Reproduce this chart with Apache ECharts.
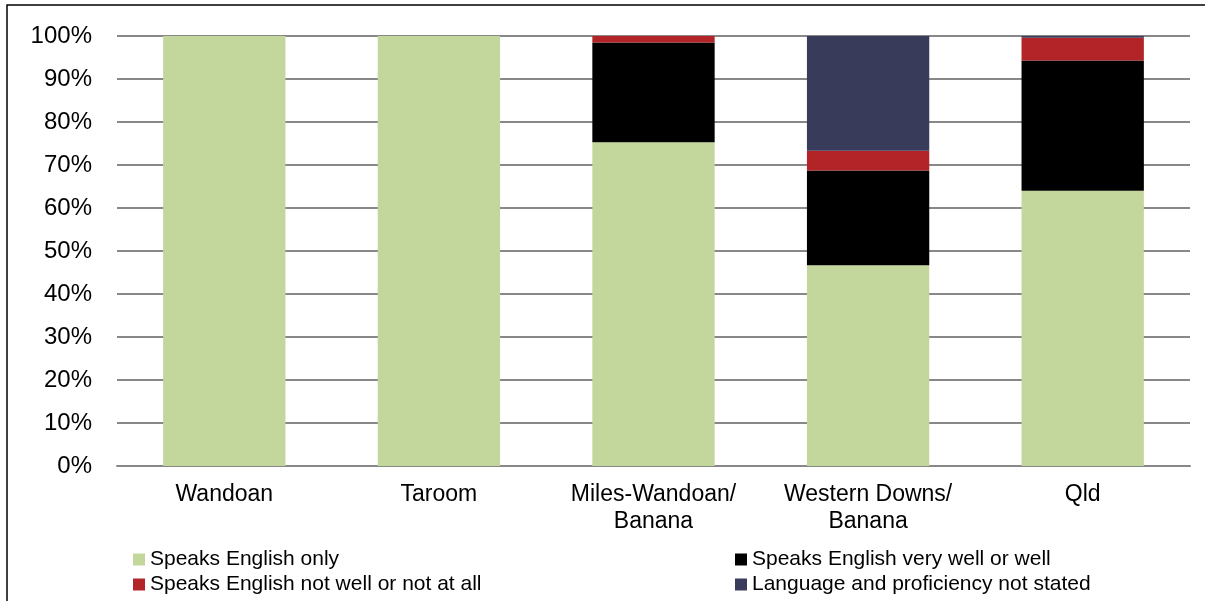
<!DOCTYPE html>
<html>
<head>
<meta charset="utf-8">
<script src="https://cdn.jsdelivr.net/npm/echarts@6/dist/echarts.min.js"></script>
<style>
html, body { margin: 0; padding: 0; background: #fff; }
#chart { width: 1205px; height: 601px; }
</style>
</head>
<body>
<div id="chart"></div>
<script>
var categories = ['Wandoan', 'Taroom', 'Miles-Wandoan/\nBanana', 'Western Downs/\nBanana', 'Qld'];
var englishOnly = [100, 100, 75.3, 46.7, 64.0];
var veryWell = [0, 0, 23.2, 22.0, 30.3];
var notWell = [0, 0, 1.5, 4.6, 5.3];
var notStated = [0, 0, 0, 26.7, 0.4];
var yTicks = [0, 10, 20, 30, 40, 50, 60, 70, 80, 90, 100];

var names = ['Speaks English only', 'Speaks English very well or well',
             'Speaks English not well or not at all', 'Language and proficiency not stated'];
var colors = ['#C3D69B', '#000000', '#B22428', '#383C5A'];
var values = [englishOnly, veryWell, notWell, notStated];

var myChart = echarts.init(document.getElementById('chart'));

var legendText = { fontFamily: 'Liberation Sans', fontSize: 21, color: '#000', lineHeight: 21 };

var option = {
    animation: false,
    textStyle: { fontFamily: 'Liberation Sans' },
    graphic: [{
        type: 'rect',
        shape: { x: 7, y: 5, width: 1210, height: 610 },
        style: { fill: 'none', stroke: '#000', lineWidth: 1.5 },
        silent: true
    }],
    grid: { left: 117, right: 15, top: 36, bottom: 135 },
    legend: [
        {
            data: [names[0], names[2]],
            orient: 'vertical',
            left: 133, top: 549, height: 80, width: 500,
            padding: 0,
            itemWidth: 12, itemHeight: 12, itemGap: 4,
            icon: 'rect',
            textStyle: legendText
        },
        {
            data: [names[1], names[3]],
            orient: 'vertical',
            left: 735, top: 549, height: 80, width: 465,
            padding: 0,
            itemWidth: 12, itemHeight: 12, itemGap: 4,
            icon: 'rect',
            textStyle: legendText
        }
    ],
    xAxis: {
        type: 'category',
        data: categories,
        axisLine: { lineStyle: { color: '#888', width: 2 } },
        axisTick: { show: false },
        axisLabel: {
            interval: 0, hideOverlap: false,
            color: '#000', fontSize: 23, margin: 15, lineHeight: 27,
            fontFamily: 'Liberation Sans'
        }
    },
    yAxis: {
        type: 'value',
        min: 0, max: 100, interval: 10,
        axisLine: { show: false },
        axisTick: { show: false },
        splitLine: { lineStyle: { color: '#888', width: 2 } },
        axisLabel: {
            color: '#000', fontSize: 24, margin: 25,
            fontFamily: 'Liberation Sans',
            formatter: function (v) { return yTicks.indexOf(v) >= 0 ? v + '%' : ''; }
        }
    },
    series: names.map(function (n, i) {
        return {
            name: n,
            type: 'bar',
            stack: 'total',
            barWidth: '57%',
            itemStyle: { color: colors[i] },
            data: values[i]
        };
    })
};
myChart.setOption(option);
</script>
</body>
</html>
